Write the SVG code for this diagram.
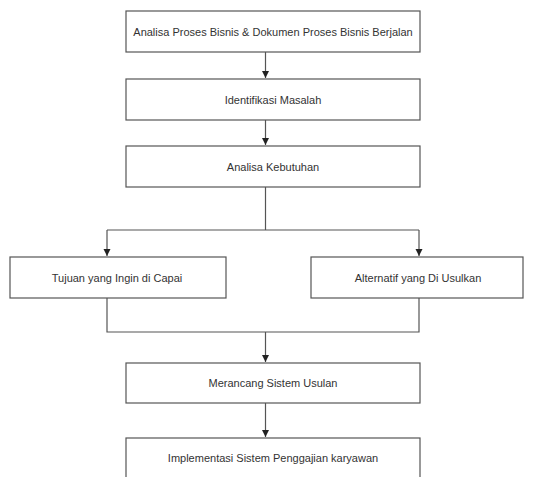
<svg xmlns="http://www.w3.org/2000/svg" width="542" height="477" viewBox="0 0 542 477">
<defs>
<marker id="ah" markerWidth="8" markerHeight="8" refX="7" refY="4" orient="auto" markerUnits="userSpaceOnUse">
<path d="M0,0.5 L7,4 L0,7.5 Z" fill="#222"/>
</marker>
<style>
.box{fill:#fff;stroke:#555;stroke-width:1.2}
.t{font-family:"Liberation Sans",Arial,sans-serif;font-size:11px;fill:#333;text-anchor:middle;dominant-baseline:central}
.c{fill:none;stroke:#555;stroke-width:1.2}
</style>
</defs>
<rect width="542" height="477" fill="#fff"/>
<g id="connectors">
<path class="c" d="M265.5,52 V78" marker-end="url(#ah)"/>
<path class="c" d="M265.5,120 V145" marker-end="url(#ah)"/>
<path class="c" d="M265.5,187 V230"/>
<path class="c" d="M107,230 H419"/>
<path class="c" d="M107,230 V256" marker-end="url(#ah)"/>
<path class="c" d="M419,230 V256" marker-end="url(#ah)"/>
<path class="c" d="M107,298 V332 H419 V298"/>
<path class="c" d="M265.5,332 V362" marker-end="url(#ah)"/>
<path class="c" d="M265.5,403 V437" marker-end="url(#ah)"/>
</g>
<g id="n1"><rect class="box" x="126" y="11" width="294" height="41"/><text class="t" x="273" y="32">Analisa Proses Bisnis &amp; Dokumen Proses Bisnis Berjalan</text></g>
<g id="n2"><rect class="box" x="126" y="79" width="294" height="41"/><text class="t" x="273" y="100">Identifikasi Masalah</text></g>
<g id="n3"><rect class="box" x="126" y="146" width="294" height="41"/><text class="t" x="273" y="167">Analisa Kebutuhan</text></g>
<g id="n4"><rect class="box" x="10" y="257" width="216" height="41"/><text class="t" x="117" y="278">Tujuan yang Ingin di Capai</text></g>
<g id="n5"><rect class="box" x="311" y="257" width="212" height="41"/><text class="t" x="418" y="278">Alternatif yang Di Usulkan</text></g>
<g id="n6"><rect class="box" x="126" y="363" width="294" height="40"/><text class="t" x="273" y="383">Merancang Sistem Usulan</text></g>
<g id="n7"><rect class="box" x="126" y="438" width="294" height="45"/><text class="t" x="273" y="458">Implementasi Sistem Penggajian karyawan</text></g>
</svg>
